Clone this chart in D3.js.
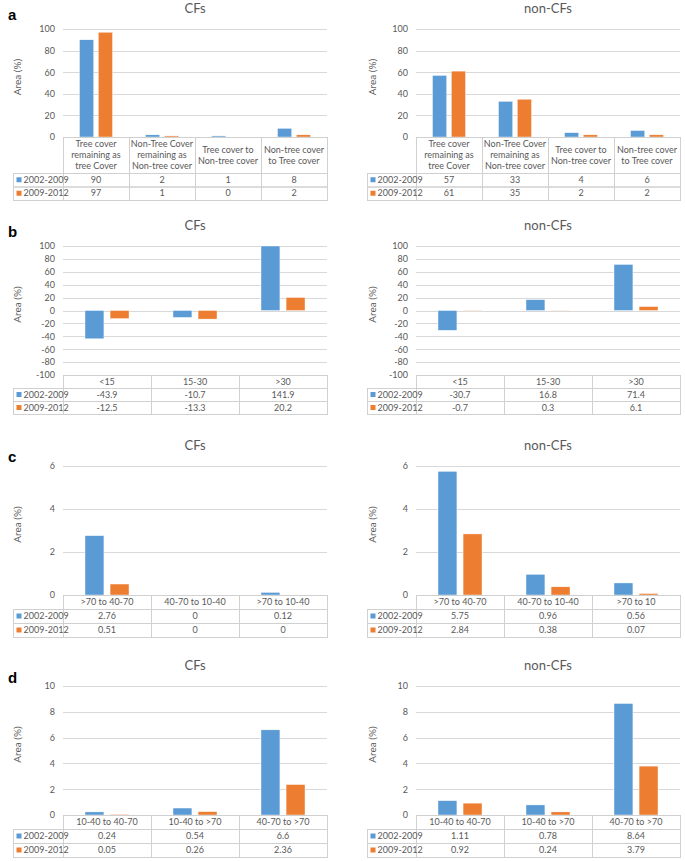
<!DOCTYPE html>
<html><head><meta charset="utf-8">
<script src="https://cdn.jsdelivr.net/npm/d3@7"></script>
<style>body{margin:0;background:#fff;} svg{display:block;}</style>
</head><body>
<svg id="chart" width="685" height="861"></svg>
<script>
// ---------- DATA ----------
const seriesNames = ["2002-2009", "2009-2012"];

const catsA = [["Tree cover","remaining as","tree Cover"],["Non-Tree Cover","remaining as","Non-tree cover"],["Tree cover to","Non-tree cover"],["Non-tree cover","to Tree cover"]];
const aCF2002 = [90, 2, 1, 8];
const aCF2009 = [97, 1, 0, 2];
const aNon2002 = [57, 33, 4, 6];
const aNon2009 = [61, 35, 2, 2];
const ticksA = [0, 20, 40, 60, 80, 100];

const catsB = [["<15"], ["15-30"], [">30"]];
const bCF2002 = [-43.9, -10.7, 141.9];
const bCF2009 = [-12.5, -13.3, 20.2];
const bNon2002 = [-30.7, 16.8, 71.4];
const bNon2009 = [-0.7, 0.3, 6.1];
const ticksB = [-100, -80, -60, -40, -20, 0, 20, 40, 60, 80, 100];

const catsCcf = [[">70 to 40-70"], ["40-70 to 10-40"], [">70 to 10-40"]];
const catsCnon = [[">70 to 40-70"], ["40-70 to 10-40"], [">70 to 10"]];
const cCF2002 = [2.76, 0, 0.12];
const cCF2009 = [0.51, 0, 0];
const cNon2002 = [5.75, 0.96, 0.56];
const cNon2009 = [2.84, 0.38, 0.07];
const ticksC = [0, 2, 4, 6];

const catsD = [["10-40 to 40-70"], ["10-40 to >70"], ["40-70 to >70"]];
const dCF2002 = [0.24, 0.54, 6.6];
const dCF2009 = [0.05, 0.26, 2.36];
const dNon2002 = [1.11, 0.78, 8.64];
const dNon2009 = [0.92, 0.24, 3.79];
const ticksD = [0, 2, 4, 6, 8, 10];

const colors = ["#5B9BD5", "#ED7D31"];
const FONT = "Lato, 'Liberation Sans', sans-serif";
const TXT = "#595959";
const GRID = "#D9D9D9";
const BORDER = "#D0D0D0";

// ---------- LAYOUT ----------
const sides = {
  left:  {x0: 63,  x1: 327, rowX: 13,  tickX: 55,  labelX: 17},
  right: {x0: 416, x1: 680, rowX: 367, tickX: 408, labelX: 372}
};
const rows = {
  a: {top: 29,  bottom: 137, headH: 36, rowH: 13.5, letterY: 15},
  b: {top: 246, bottom: 375, headH: 13, rowH: 13,   letterY: 232},
  c: {top: 466, bottom: 595, headH: 14, rowH: 14,   letterY: 457},
  d: {top: 686, bottom: 815, headH: 14, rowH: 14,   letterY: 678}
};

const svg = d3.select("#chart");

function fmt(v){ return String(v); }

function panel(side, row, title, cats, s1, s2, ticks){
  const S = sides[side], R = rows[row];
  const g = svg.append("g");
  const dom = d3.extent(ticks);
  const y = d3.scaleLinear().domain(dom).range([R.bottom, R.top]);
  const x = d3.scaleBand().domain(d3.range(cats.length)).range([S.x0, S.x1]);
  const bw = x.bandwidth();
  const barW = bw * 0.215, gap = bw * 0.07;

  // title
  g.append("text").attr("x", (S.x0 + S.x1) / 2).attr("y", R.top - 16)
    .attr("text-anchor", "middle").attr("font-family", FONT).attr("font-size", 13)
    .attr("fill", TXT).text(title);

  // gridlines
  g.append("g").selectAll("line").data(ticks.filter(t => t !== dom[0])).join("line")
    .attr("x1", S.x0).attr("x2", S.x1).attr("y1", d => Math.round(y(d)) + 0.5).attr("y2", d => Math.round(y(d)) + 0.5)
    .attr("stroke", GRID).attr("stroke-width", 1);

  // y axis labels
  const ax = d3.axisLeft(y).tickValues(ticks).tickFormat(d => String(d)).tickSize(0).tickPadding(0);
  const axg = g.append("g").attr("transform", `translate(${S.tickX},0)`).call(ax);
  axg.select(".domain").remove();
  axg.selectAll("text").attr("font-family", FONT).attr("font-size", 9).attr("fill", TXT);

  // y title
  g.append("text").attr("transform", `translate(${S.labelX},${(R.top + R.bottom) / 2 - 6}) rotate(-90)`)
    .attr("text-anchor", "middle").attr("dy", "0.35em").attr("font-family", FONT).attr("font-size", 10)
    .attr("fill", TXT).text("Area (%)");

  // bars
  const clamp = v => Math.max(dom[0], Math.min(dom[1], v));
  [s1, s2].forEach((vals, si) => {
    g.append("g").selectAll("rect").data(vals.map((v, i) => ({v, i}))).join("rect")
      .attr("x", d => x(d.i) + (bw - 2 * barW - gap) / 2 + si * (barW + gap))
      .attr("width", barW)
      .attr("y", d => Math.min(y(0), y(clamp(d.v))))
      .attr("height", d => Math.abs(y(clamp(d.v)) - y(0)))
      .attr("fill", colors[si]).attr("stroke", "#fff").attr("stroke-width", 0.4);
  });

  // table
  const t0 = R.bottom, h0 = R.headH, rh = R.rowH;
  const tb = g.append("g").attr("stroke", BORDER).attr("stroke-width", 1).attr("fill", "none");
  tb.selectAll("rect.h").data(d3.range(cats.length)).join("rect").attr("class", "h")
    .attr("x", i => x(i) + 0.5).attr("y", t0 + 0.5).attr("width", bw).attr("height", h0);
  [0, 1].forEach(ri => {
    const yy = t0 + h0 + ri * rh;
    tb.append("rect").attr("x", S.rowX + 0.5).attr("y", yy + 0.5).attr("width", S.x0 - S.rowX).attr("height", rh);
    tb.selectAll("rect.r" + ri).data(d3.range(cats.length)).join("rect").attr("class", "r" + ri)
      .attr("x", i => x(i) + 0.5).attr("y", yy + 0.5).attr("width", bw).attr("height", rh);
  });

  // header labels
  cats.forEach((lines, i) => {
    const n = lines.length, lh = 11;
    const cy = t0 + h0 / 2;
    lines.forEach((ln, k) => {
      g.append("text").attr("x", x(i) + bw / 2).attr("y", cy + (k - (n - 1) / 2) * lh)
        .attr("dy", "0.35em").attr("text-anchor", "middle").attr("font-family", FONT)
        .attr("font-size", 9).attr("fill", TXT).text(ln);
    });
  });
  // row values and legend
  [s1, s2].forEach((vals, ri) => {
    const cy = t0 + h0 + ri * rh + rh / 2;
    g.append("rect").attr("x", S.rowX + 3.5).attr("y", cy - 2.5).attr("width", 5).attr("height", 5).attr("fill", colors[ri]);
    g.append("text").attr("x", S.rowX + 10.5).attr("y", cy).attr("dy", "0.35em")
      .attr("font-family", FONT).attr("font-size", 9).attr("fill", TXT).text(seriesNames[ri]);
    vals.forEach((v, i) => {
      g.append("text").attr("x", x(i) + bw / 2).attr("y", cy).attr("dy", "0.35em").attr("text-anchor", "middle")
        .attr("font-family", FONT).attr("font-size", 9).attr("fill", TXT).text(fmt(v));
    });
  });
}

function letter(row, ch){
  svg.append("text").attr("x", 8).attr("y", rows[row].letterY).attr("dy", "0.35em")
    .attr("font-family", "'Liberation Sans', Arial, sans-serif").attr("font-weight", "bold")
    .attr("font-size", 15).attr("fill", "#000").text(ch);
}

panel("left", "a", "CFs", catsA, aCF2002, aCF2009, ticksA);
panel("right", "a", "non-CFs", catsA, aNon2002, aNon2009, ticksA);
panel("left", "b", "CFs", catsB, bCF2002, bCF2009, ticksB);
panel("right", "b", "non-CFs", catsB, bNon2002, bNon2009, ticksB);
panel("left", "c", "CFs", catsCcf, cCF2002, cCF2009, ticksC);
panel("right", "c", "non-CFs", catsCnon, cNon2002, cNon2009, ticksC);
panel("left", "d", "CFs", catsD, dCF2002, dCF2009, ticksD);
panel("right", "d", "non-CFs", catsD, dNon2002, dNon2009, ticksD);
letter("a", "a"); letter("b", "b"); letter("c", "c"); letter("d", "d");
</script>
</body></html>
